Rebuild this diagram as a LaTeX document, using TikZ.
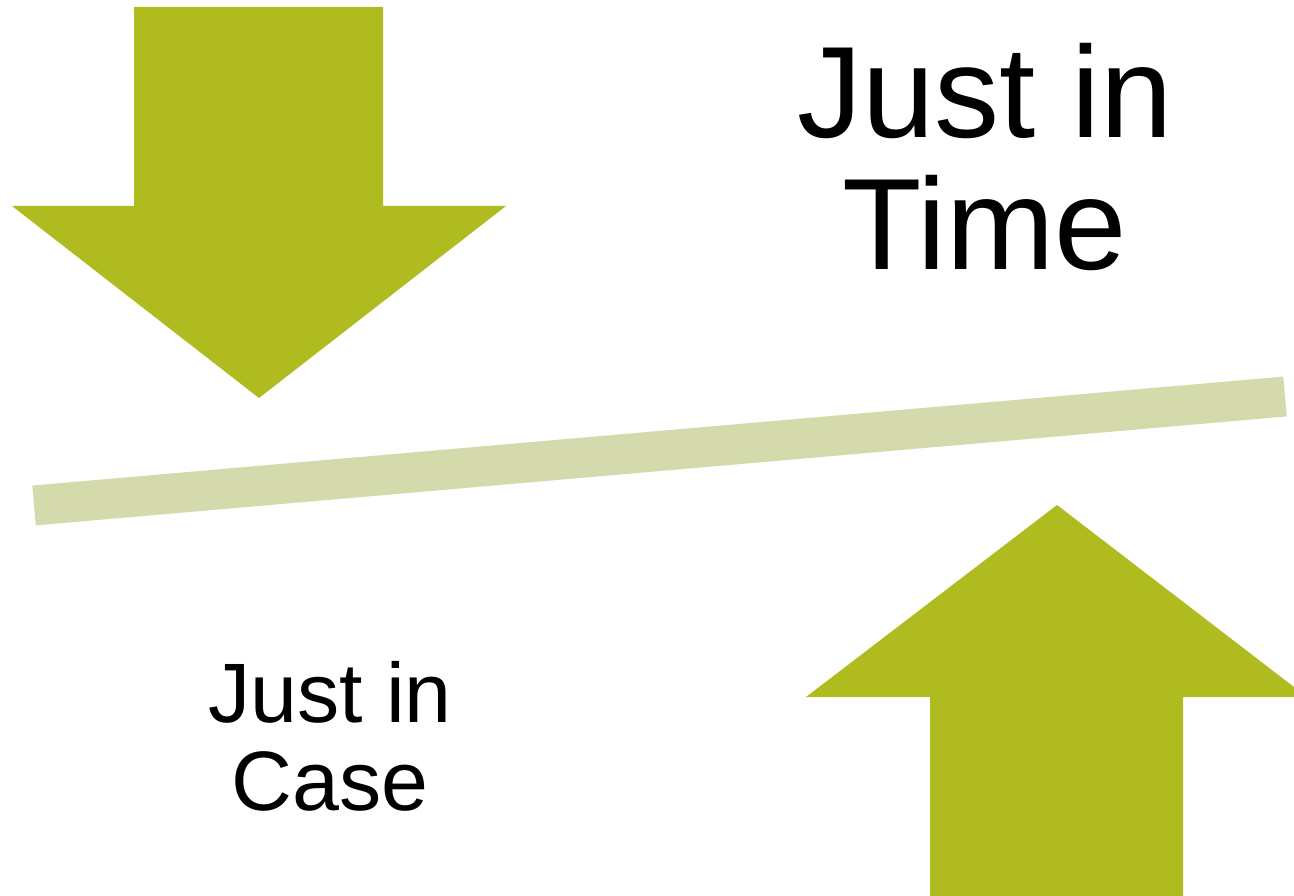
\documentclass[tikz,border=0pt]{standalone}
\usepackage{fontspec}
\setmainfont{Liberation Sans}
\usepackage{tikz}
\usetikzlibrary{positioning}
\definecolor{arrowgreen}{HTML}{B0BB1F}
\definecolor{barpale}{HTML}{D4DAAB}

\begin{document}
\begin{tikzpicture}[
    bigarrow/.style={fill=arrowgreen, draw=none},
    seesaw/.style={draw=barpale, line width=0.4cm, line cap=butt},
    jitlabel/.style={align=center, inner sep=0pt, anchor=north, font=\fontsize{37}{37.5}\selectfont},
    jiclabel/.style={align=center, inner sep=0pt, anchor=north, font=\fontsize{24}{25}\selectfont}
]
\useasboundingbox (0,0) rectangle (12.94,8.95);
\clip (0,0) rectangle (12.94,8.95);

\fill[bigarrow] (1.34,8.88) -- (3.83,8.88) -- (3.83,6.89) -- (5.06,6.89)
    -- (2.59,4.97) -- (0.12,6.89) -- (1.34,6.89) -- cycle;
\fill[bigarrow] (9.30,-0.1) -- (11.83,-0.1) -- (11.83,1.98) -- (13.07,1.98)
    -- (10.57,3.90) -- (8.06,1.98) -- (9.30,1.98) -- cycle;

\coordinate (BarLeft) at (0.34,3.895);
\coordinate (BarRight) at (12.85,4.985);
\draw[seesaw] (BarLeft) -- (BarRight);

\node[jitlabel] (JustInTime) at (9.85,8.52) {Just in\\Time};
\node[jiclabel] (JustInCase) at (3.30,2.34) {Just in\\Case};
\end{tikzpicture}
\end{document}
